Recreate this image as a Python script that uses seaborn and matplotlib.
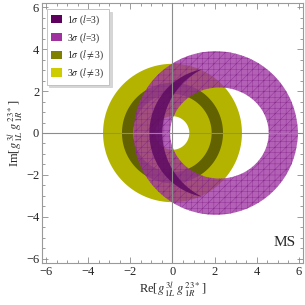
import numpy as np
import pandas as pd
import seaborn as sns
import matplotlib
matplotlib.use("Agg")
import matplotlib.pyplot as plt
from matplotlib.path import Path
from matplotlib.patches import PathPatch, Patch
from matplotlib.ticker import MultipleLocator

# ---- data ----
labels = [r"1$\sigma$ ($l$=3)", r"3$\sigma$ ($l$=3)", r"1$\sigma$ ($l\neq$3)", r"3$\sigma$ ($l\neq$3)"]
legend_colors = ["#5e005e", "#a032a0", "#808000", "#cccc00"]

# l != 3 : annuli centred at origin  (centre_x, centre_y, r_in, r_out)
ring3_lne = [0.0, 0.0, 0.8, 3.3]
ring1_lne = [0.0, 0.0, 1.86, 2.4]
# l = 3, 3 sigma : outer circle (cx, cy, r) and inner ellipse (cx, cy, a, b)
ring3_leq_outer = [2.05, 0.0, 3.9]
ring3_leq_inner = [2.23, 0.0, 2.34, 2.17]
# l = 3, 1 sigma crescent: inside circle A, outside circle B
cres_A = [2.0, 0.0, 3.1]
cres_B = [2.91, 0.0, 3.39]

xticks = [-6, -4, -2, 0, 2, 4, 6]
yticks = [-6, -4, -2, 0, 2, 4, 6]

sns.set_theme(style="ticks")
plt.rcParams["font.family"] = ["Liberation Serif", "DejaVu Serif"]
plt.rcParams["mathtext.fontset"] = "stix"
plt.rcParams["hatch.linewidth"] = 0.3

fig = plt.figure(figsize=(3.05, 3.05), dpi=100)
ax = fig.add_axes([0.1377, 0.1377, 0.8557, 0.8525])

t = np.linspace(0, 2 * np.pi, 400)


def ellipse_pts(cx, cy, a, b, reverse=False):
    tt = t[::-1] if reverse else t
    return np.column_stack([cx + a * np.cos(tt), cy + b * np.sin(tt)])


def ring_path(outer, inner):
    verts = np.vstack([outer, inner])
    codes = np.full(len(verts), Path.LINETO)
    codes[0] = Path.MOVETO
    codes[len(outer)] = Path.MOVETO
    return Path(verts, codes)


def annulus(c, **kw):
    cx, cy, ri, ro = c
    p = ring_path(ellipse_pts(cx, cy, ro, ro), ellipse_pts(cx, cy, ri, ri, reverse=True))
    ax.add_patch(PathPatch(p, **kw))


annulus(ring3_lne, facecolor="#b4b400", edgecolor="none", zorder=1)
annulus(ring1_lne, facecolor="#626200", edgecolor="none", zorder=2)

ox, oy, orad = ring3_leq_outer
ix, iy, ia, ib = ring3_leq_inner
p = ring_path(ellipse_pts(ox, oy, orad, orad), ellipse_pts(ix, iy, ia, ib, reverse=True))
ax.add_patch(PathPatch(p, facecolor=(0.62, 0.2, 0.64, 0.78), edgecolor=(0.5, 0.12, 0.52, 0.8),
                       hatch="+++///", linewidth=0, zorder=3))

# crescent
ax_, ay_, ra = cres_A
bx_, by_, rb = cres_B
xi = (ra**2 - rb**2 - ax_**2 + bx_**2) / (2 * (bx_ - ax_))
yi = np.sqrt(ra**2 - (xi - ax_)**2)
thA = np.arctan2(yi, xi - ax_)
thB = np.arctan2(yi, xi - bx_)
angA = np.linspace(thA, 2 * np.pi - thA, 200)
angB = np.linspace(2 * np.pi - thB, thB, 200)
cres = np.vstack([np.column_stack([ax_ + ra * np.cos(angA), ay_ + ra * np.sin(angA)]),
                  np.column_stack([bx_ + rb * np.cos(angB), by_ + rb * np.sin(angB)])])
ax.fill(cres[:, 0], cres[:, 1], facecolor=(0.36, 0.03, 0.38, 0.82), edgecolor="none", zorder=4)

ax.axhline(0, color="#8c8c8c", lw=0.8, zorder=5)
ax.axvline(0, color="#8c8c8c", lw=0.8, zorder=5)

ax.set_xlim(-6.2, 6.2)
ax.set_ylim(-6.2, 6.2)
ax.set_xticks(xticks)
ax.set_yticks(yticks)
ax.set_xticklabels([f"{v}" if v >= 0 else f"\u2212{-v}" for v in xticks])
ax.set_yticklabels([f"{v}" if v >= 0 else f"\u2212{-v}" for v in yticks])
ax.xaxis.set_minor_locator(MultipleLocator(0.5))
ax.yaxis.set_minor_locator(MultipleLocator(0.5))
ax.tick_params(which="both", direction="in", top=True, right=True, color="#8c8c8c",
               labelsize=9, pad=2, width=0.6)
ax.tick_params(which="major", length=4)
ax.tick_params(which="minor", length=2)
for s in ax.spines.values():
    s.set_color("#9a9a9a")
    s.set_linewidth(0.8)

ax.set_xlabel(r"Re[$g^{\,3l}_{\,1L}\;g^{\,23*}_{\,1R}$]", fontsize=9, labelpad=1)
ax.set_ylabel(r"Im[$g^{\,3l}_{\,1L}\;g^{\,23*}_{\,1R}$]", fontsize=9, labelpad=1)

ax.text(5.85, -5.2, "MS", ha="right", va="center", fontsize=11)

handles = [Patch(facecolor=c, edgecolor="none") for c in legend_colors]
leg = ax.legend(handles, labels, loc="upper left", bbox_to_anchor=(0.01, 0.985), fontsize=7,
                frameon=True, fancybox=False, shadow={"color": "0.8", "alpha": 0.8},
                handlelength=1.1, handleheight=1.0,
                handletextpad=0.6, labelspacing=0.45, borderpad=0.45, borderaxespad=0.2)
leg.get_frame().set_edgecolor("#bbbbbb")
leg.get_frame().set_linewidth(0.6)
leg.set_zorder(10)

fig.savefig("out.png", dpi=100)
